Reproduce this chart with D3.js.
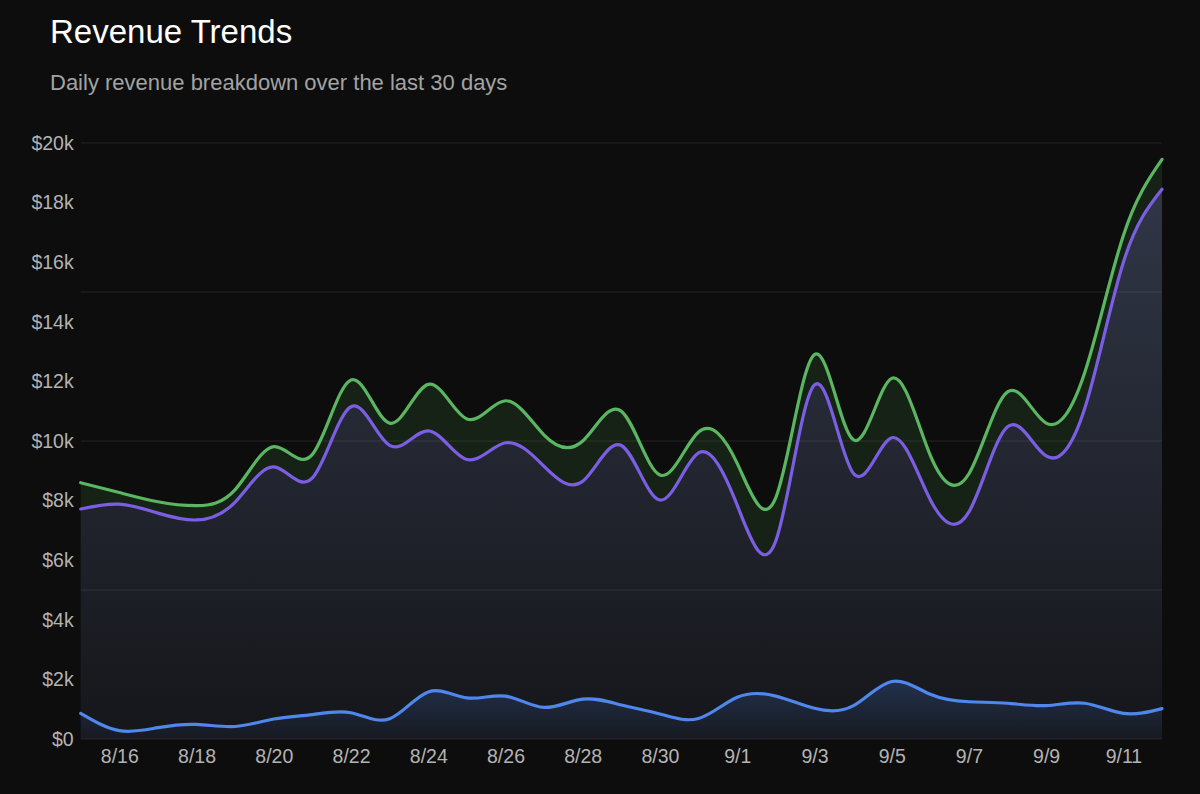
<!DOCTYPE html>
<html>
<head>
<meta charset="utf-8">
<style>
  html, body { margin: 0; padding: 0; background: #0d0d0d; }
  svg { display: block; }
  text { font-family: "Liberation Sans", Arial, Helvetica, sans-serif; }
</style>
</head>
<body>
<svg width="1200" height="794"></svg>
<script src="https://cdn.jsdelivr.net/npm/d3@7"></script>
<script>
// days on the x axis
var days = ['8/15', '8/16', '8/17', '8/18', '8/19', '8/20', '8/21', '8/22', '8/23', '8/24',
            '8/25', '8/26', '8/27', '8/28', '8/29', '8/30', '8/31', '9/1', '9/2', '9/3',
            '9/4', '9/5', '9/6', '9/7', '9/8', '9/9', '9/10', '9/11', '9/12'];

// green line: total revenue
var totalRevenue = [8600, 8270, 7960, 7830, 8370, 9810, 9550, 12050, 10600, 11900,
                    10740, 11350, 10200, 10000, 11000, 8860, 10300, 9250, 8100, 12900,
                    10050, 12100, 9520, 8900, 11650, 10600, 12300, 16900, 19450];

// purple line: recurring revenue
var recurringRevenue = [7720, 7880, 7580, 7350, 7950, 9130, 8760, 11150, 9850, 10340,
                        9380, 9940, 9150, 8650, 9850, 8020, 9600, 7850, 6650, 11880,
                        8930, 10110, 8030, 7620, 10480, 9500, 11100, 16000, 18450];

// blue line: one-time revenue
var oneTimeRevenue = [860, 280, 380, 490, 420, 670, 820, 880, 680, 1580,
                      1380, 1440, 1060, 1340, 1140, 840, 690, 1400, 1440, 1030,
                      1110, 1930, 1500, 1250, 1200, 1120, 1200, 860, 1020];

var yTicks = [0, 2000, 4000, 6000, 8000, 10000, 12000, 14000, 16000, 18000, 20000];
var gridValues = [0, 5000, 10000, 15000, 20000];
var xTicks = ['8/16', '8/18', '8/20', '8/22', '8/24', '8/26', '8/28', '8/30',
              '9/1', '9/3', '9/5', '9/7', '9/9', '9/11'];

(function() {

  var svg = d3.select('svg');

  var left = 80.7, right = 1162, top = 143, bottom = 739;

  var x = d3.scalePoint().domain(days).range([left, right]);
  var y = d3.scaleLinear().domain([0, 20000]).range([bottom, top]);

  var rows = days.map(function(d, i) {
    return {day: d, total: totalRevenue[i], recurring: recurringRevenue[i], oneTime: oneTimeRevenue[i]};
  });

  // title
  svg.append('text')
    .attr('x', 50).attr('y', 43)
    .attr('fill', '#ffffff')
    .style('font-size', '33px')
    .text('Revenue Trends');

  svg.append('text')
    .attr('x', 50).attr('y', 90)
    .attr('fill', '#a3a3a3')
    .style('font-size', '22px')
    .text('Daily revenue breakdown over the last 30 days');

  // gradients
  var defs = svg.append('defs');

  var g1 = defs.append('linearGradient')
    .attr('id', 'fillRecurring')
    .attr('gradientUnits', 'userSpaceOnUse')
    .attr('x1', 0).attr('x2', 0).attr('y1', top).attr('y2', bottom);
  g1.append('stop').attr('offset', 0).attr('stop-color', 'rgb(112,128,175)').attr('stop-opacity', 0.38);
  g1.append('stop').attr('offset', 1).attr('stop-color', 'rgb(112,128,175)').attr('stop-opacity', 0.08);

  var g2 = defs.append('linearGradient')
    .attr('id', 'fillOneTime')
    .attr('gradientUnits', 'userSpaceOnUse')
    .attr('x1', 0).attr('x2', 0).attr('y1', y(2000)).attr('y2', bottom);
  g2.append('stop').attr('offset', 0).attr('stop-color', '#4a84f0').attr('stop-opacity', 0.22);
  g2.append('stop').attr('offset', 1).attr('stop-color', '#4a84f0').attr('stop-opacity', 0.03);

  // grid
  svg.append('g').selectAll('line')
    .data(gridValues)
    .enter().append('line')
    .attr('x1', left).attr('x2', right)
    .attr('y1', function(d) { return y(d); })
    .attr('y2', function(d) { return y(d); })
    .attr('stroke', '#242424')
    .attr('stroke-width', 1);

  var curve = d3.curveNatural;

  var areaRecurring = d3.area()
    .x(function(d) { return x(d.day); })
    .y0(bottom)
    .y1(function(d) { return y(d.recurring); })
    .curve(curve);

  var areaBand = d3.area()
    .x(function(d) { return x(d.day); })
    .y0(function(d) { return y(d.recurring); })
    .y1(function(d) { return y(d.total); })
    .curve(curve);

  var areaOneTime = d3.area()
    .x(function(d) { return x(d.day); })
    .y0(bottom)
    .y1(function(d) { return y(d.oneTime); })
    .curve(curve);

  svg.append('path').datum(rows)
    .attr('d', areaRecurring)
    .attr('fill', 'url(#fillRecurring)');

  svg.append('path').datum(rows)
    .attr('d', areaBand)
    .attr('fill', 'rgba(76, 175, 80, 0.13)');

  svg.append('path').datum(rows)
    .attr('d', areaOneTime)
    .attr('fill', 'url(#fillOneTime)');

  var lineOf = function(key) {
    return d3.line()
      .x(function(d) { return x(d.day); })
      .y(function(d) { return y(d[key]); })
      .curve(curve);
  };

  var lines = [
    {key: 'total', color: '#5bb662'},
    {key: 'recurring', color: '#7b5ee3'},
    {key: 'oneTime', color: '#4f87ec'}
  ];

  lines.forEach(function(l) {
    svg.append('path').datum(rows)
      .attr('d', lineOf(l.key))
      .attr('fill', 'none')
      .attr('stroke', l.color)
      .attr('stroke-width', 3.2)
      .attr('stroke-linejoin', 'round')
      .attr('stroke-linecap', 'round');
  });

  // axes
  var yAxis = svg.append('g')
    .attr('transform', 'translate(' + left + ',0)')
    .call(d3.axisLeft(y)
      .tickValues(yTicks)
      .tickSize(0)
      .tickPadding(7)
      .tickFormat(function(d) { return '$' + (d / 1000) + (d ? 'k' : ''); }));

  var xAxis = svg.append('g')
    .attr('transform', 'translate(0,' + bottom + ')')
    .call(d3.axisBottom(x)
      .tickValues(xTicks)
      .tickSize(0)
      .tickPadding(10));

  [yAxis, xAxis].forEach(function(a) {
    a.select('.domain').remove();
    a.selectAll('text')
      .attr('fill', '#b3b3b3')
      .style('font-size', '19.5px')
      .style('font-family', '"Liberation Sans", Arial, Helvetica, sans-serif');
  });

})();
</script>
</body>
</html>
